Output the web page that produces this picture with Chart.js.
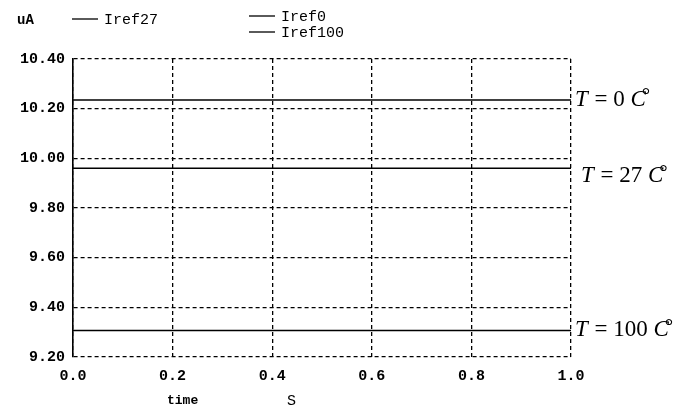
<!DOCTYPE html>
<html>
<head>
<meta charset="utf-8">
<script src="https://cdn.jsdelivr.net/npm/chart.js@4/dist/chart.umd.min.js"></script>
<style>
  html, body { margin: 0; padding: 0; background: #fff; }
  #wrap { width: 691px; height: 408px; position: relative; }
</style>
</head>
<body>
<div id="wrap"><canvas id="c" width="691" height="408"></canvas></div>
<script>
// ---- data ----
const timeValues = [0, 1];
const iref27 = [9.96, 9.96];
const iref0 = [10.235, 10.235];
const iref100 = [9.307, 9.307];
const seriesNames = ['Iref27', 'Iref0', 'Iref100'];
const yTicks = [9.2, 9.4, 9.6, 9.8, 10.0, 10.2, 10.4];
const xTicks = [0, 0.2, 0.4, 0.6, 0.8, 1.0];
const unitLabel = 'uA';
const xTitle = 'time';
const xUnit = 'S';
const annotations = [
  { label: '0', value: 10.235 },
  { label: '27', value: 9.96 },
  { label: '100', value: 9.307 }
];

const mono = '"Liberation Mono", "DejaVu Sans Mono", monospace';
const serif = '"Liberation Serif", "DejaVu Serif", serif';

function pts(ys) { return timeValues.map((t, i) => ({ x: t, y: ys[i] })); }

const overlay = {
  id: 'overlay',
  afterDraw(chart) {
    const ctx = chart.ctx;
    const ca = chart.chartArea;
    const ys = chart.scales.y;
    ctx.save();
    ctx.fillStyle = '#000';
    ctx.strokeStyle = '#000';
    // unit label
    ctx.font = 'bold 14px ' + mono;
    ctx.textBaseline = 'middle';
    ctx.textAlign = 'left';
    ctx.fillText(unitLabel, 17, 20);
    // legend
    ctx.font = '15px ' + mono;
    ctx.lineWidth = 1.3;
    const leg = [
      { x: 72, y: 19, name: seriesNames[0] },
      { x: 249, y: 16, name: seriesNames[1] },
      { x: 249, y: 32, name: seriesNames[2] }
    ];
    leg.forEach(l => {
      ctx.beginPath();
      ctx.moveTo(l.x, l.y);
      ctx.lineTo(l.x + 26, l.y);
      ctx.stroke();
      ctx.fillText(l.name, l.x + 32, l.y + 1);
    });
    // x-axis title
    ctx.font = 'bold 13px ' + mono;
    ctx.fillText(xTitle, 167, 401);
    ctx.font = '15px ' + mono;
    ctx.fillText(xUnit, 287, 401);
    // right annotations
    annotations.forEach((a, i) => {
      const y = ys.getPixelForValue(a.value) + (i === 1 ? 8 : 0);
      let x = ca.right + (i === 1 ? 10 : 4);
      ctx.textBaseline = 'middle';
      ctx.font = 'italic 23px ' + serif;
      ctx.fillText('T', x, y);
      x += ctx.measureText('T').width + 1;
      ctx.font = '23px ' + serif;
      const mid = ' = ' + a.label + ' ';
      ctx.fillText(mid, x, y);
      x += ctx.measureText(mid).width;
      ctx.font = 'italic 23px ' + serif;
      ctx.fillText('C', x, y);
      x += ctx.measureText('C').width - 4;
      ctx.font = '21px ' + serif;
      ctx.fillText('°', x, y - 3);
    });
    ctx.restore();
  }
};

new Chart(document.getElementById('c'), {
  type: 'line',
  data: {
    datasets: [
      { label: seriesNames[0], data: pts(iref27) },
      { label: seriesNames[1], data: pts(iref0) },
      { label: seriesNames[2], data: pts(iref100) }
    ]
  },
  options: {
    responsive: false,
    animation: false,
    devicePixelRatio: 1,
    layout: { padding: { left: 0, top: 59, right: 120, bottom: 0 } },
    elements: {
      line: { borderColor: '#000', borderWidth: 1.4, tension: 0 },
      point: { radius: 0 }
    },
    plugins: { legend: { display: false }, tooltip: { enabled: false } },
    scales: {
      x: {
        type: 'linear',
        min: 0, max: 1,
        afterBuildTicks: s => { s.ticks = xTicks.map(v => ({ value: v })); },
        afterFit: s => { s.height = 51; },
        ticks: {
          color: '#000',
          font: { family: mono, size: 15, weight: 'bold' },
          padding: 10,
          maxRotation: 0,
          callback: v => Number(v).toFixed(1)
        },
        grid: { color: '#000', lineWidth: 1.3, drawTicks: false },
        border: { display: false, dash: [4, 3] }
      },
      y: {
        min: 9.2, max: 10.4,
        afterBuildTicks: s => { s.ticks = yTicks.map(v => ({ value: v })); },
        afterFit: s => { s.width = 73; },
        ticks: {
          color: '#000',
          font: { family: mono, size: 15, weight: 'bold' },
          padding: 8,
          callback: v => Number(v).toFixed(2)
        },
        grid: { color: '#000', lineWidth: 1.3, drawTicks: false },
        border: { display: true, color: '#000', width: 1.6, dash: [4, 3] }
      }
    }
  },
  plugins: [overlay]
});
</script>
</body>
</html>
